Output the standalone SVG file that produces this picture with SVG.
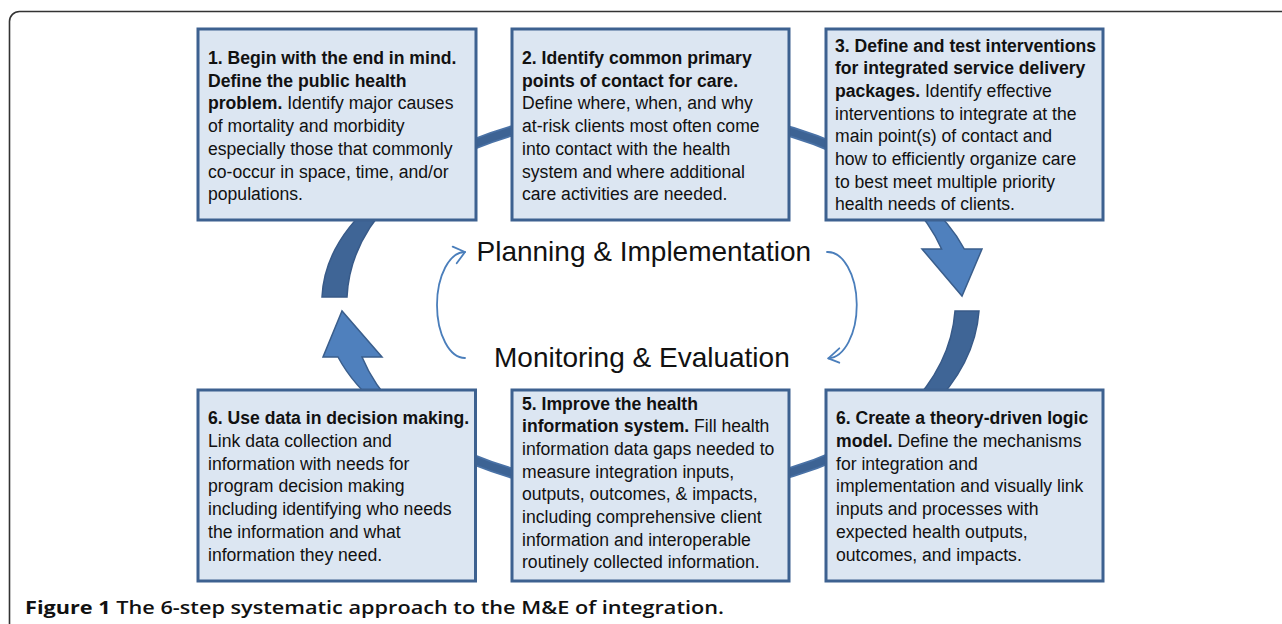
<svg xmlns="http://www.w3.org/2000/svg" width="1282" height="624" viewBox="0 0 1282 624">
<style>
.box{fill:#dce6f2;stroke:#3d6190;stroke-width:3}
.t{font-family:"Liberation Sans",Arial,Helvetica,sans-serif;font-size:17.6px;fill:#111}
.b{font-weight:bold}
.big{font-family:"Liberation Sans",Arial,Helvetica,sans-serif;font-size:28px;fill:#111}
.dark{fill:#3f6596;stroke:#385a88;stroke-width:1.5}
.light{fill:#4f80bd;stroke:#3a5e8c;stroke-width:1.5}
.thin{fill:none;stroke:#4a7ebb;stroke-width:1.8;stroke-linecap:round;stroke-linejoin:round}
.cap{font-family:"Open Sans","Noto Sans","Liberation Sans",sans-serif;font-size:18px;fill:#111}
</style>
<rect x="0" y="0" width="1282" height="624" fill="#ffffff"/>
<path d="M9.5,624 L9.5,21.5 A10,10 0 0 1 19.5,11.5 L1290,11.5" fill="none" stroke="#333" stroke-width="1.6"/>
<g id="connectors">
  <path d="M440,160 A315.5,190 0 0 1 860,160" fill="none" stroke="#4a72a6" stroke-width="11"/>
  <path d="M440,160 A315.5,190 0 0 1 860,160" fill="none" stroke="#3d6394" stroke-width="7.5"/>
  <path d="M440,444 A315.5,190 0 0 0 860,444" fill="none" stroke="#4a72a6" stroke-width="11"/>
  <path d="M440,444 A315.5,190 0 0 0 860,444" fill="none" stroke="#3d6394" stroke-width="7.5"/>
  <path class="dark" d="M376,200 A328,185 0 0 0 322,297 L347,297 A303,195 0 0 1 392,200 Z"/>
  <path class="light" d="M383.7,410 A328,185 0 0 1 338,357 L323,357 L342,311 L382,357 L362,357 A303,195 0 0 0 397.7,410 Z"/>
  <path class="light" d="M908,200 A303,195 0 0 1 941.6,249 L922,249 L962,296 L982,249 L964.3,249 A328,185 0 0 0 923.6,200 Z"/>
  <path class="dark" d="M979,311 A329,203 0 0 1 928.6,410 L906.2,410 A305,199 0 0 0 955,311 Z"/>
  <path class="thin" d="M465,358 A28,53 0 0 1 465,252"/>
  <polyline class="thin" points="452.7,246.7 465,252 456.7,263.3"/>
  <path class="thin" d="M827,252 A29,53 0 0 1 828.3,358.3"/>
  <polyline class="thin" points="839.3,348.3 828.3,358.3 839.3,362.7"/>
</g>
<g id="step1">
  <rect class="box" x="198" y="29" width="278" height="191"/>
  <text class="t">
    <tspan class="b" x="208" y="64">1. Begin with the end in mind.</tspan>
    <tspan class="b" x="208" y="86.7">Define the public health</tspan>
    <tspan x="208" y="109.4"><tspan class="b">problem.</tspan> Identify major causes</tspan>
    <tspan x="208" y="132.1">of mortality and morbidity</tspan>
    <tspan x="208" y="154.8">especially those that commonly</tspan>
    <tspan x="208" y="177.5">co-occur in space, time, and/or</tspan>
    <tspan x="208" y="200.2">populations.</tspan>
  </text>
</g>
<g id="step2">
  <rect class="box" x="512" y="29" width="277" height="191"/>
  <text class="t">
    <tspan class="b" x="522" y="64">2. Identify common primary</tspan>
    <tspan class="b" x="522" y="86.7">points of contact for care.</tspan>
    <tspan x="522" y="109.4">Define where, when, and why</tspan>
    <tspan x="522" y="132.1">at-risk clients most often come</tspan>
    <tspan x="522" y="154.8">into contact with the health</tspan>
    <tspan x="522" y="177.5">system and where additional</tspan>
    <tspan x="522" y="200.2">care activities are needed.</tspan>
  </text>
</g>
<g id="step3">
  <rect class="box" x="826" y="29" width="277" height="191"/>
  <text class="t">
    <tspan class="b" x="835" y="51.5">3. Define and test interventions</tspan>
    <tspan class="b" x="835" y="74.2">for integrated service delivery</tspan>
    <tspan x="835" y="96.9"><tspan class="b">packages.</tspan> Identify effective</tspan>
    <tspan x="835" y="119.6">interventions to integrate at the</tspan>
    <tspan x="835" y="142.3">main point(s) of contact and</tspan>
    <tspan x="835" y="165">how to efficiently organize care</tspan>
    <tspan x="835" y="187.7">to best meet multiple priority</tspan>
    <tspan x="835" y="210.4">health needs of clients.</tspan>
  </text>
</g>
<g id="step6-logic">
  <rect class="box" x="826" y="390" width="277" height="191"/>
  <text class="t">
    <tspan class="b" x="836" y="424.3">6. Create a theory-driven logic</tspan>
    <tspan x="836" y="447"><tspan class="b">model.</tspan> Define the mechanisms</tspan>
    <tspan x="836" y="469.7">for integration and</tspan>
    <tspan x="836" y="492.4">implementation and visually link</tspan>
    <tspan x="836" y="515.1">inputs and processes with</tspan>
    <tspan x="836" y="537.8">expected health outputs,</tspan>
    <tspan x="836" y="560.5">outcomes, and impacts.</tspan>
  </text>
</g>
<g id="step5">
  <rect class="box" x="512" y="390" width="277" height="191"/>
  <text class="t">
    <tspan class="b" x="522" y="409.5">5. Improve the health</tspan>
    <tspan x="522" y="432.2"><tspan class="b">information system.</tspan> Fill health</tspan>
    <tspan x="522" y="454.9">information data gaps needed to</tspan>
    <tspan x="522" y="477.6">measure integration inputs,</tspan>
    <tspan x="522" y="500.3">outputs, outcomes, &amp; impacts,</tspan>
    <tspan x="522" y="523">including comprehensive client</tspan>
    <tspan x="522" y="545.7">information and interoperable</tspan>
    <tspan x="522" y="568.4">routinely collected information.</tspan>
  </text>
</g>
<g id="step6-data">
  <rect class="box" x="198" y="390" width="277.5" height="191"/>
  <text class="t">
    <tspan class="b" x="208" y="424.3">6. Use data in decision making.</tspan>
    <tspan x="208" y="447">Link data collection and</tspan>
    <tspan x="208" y="469.7">information with needs for</tspan>
    <tspan x="208" y="492.4">program decision making</tspan>
    <tspan x="208" y="515.1">including identifying who needs</tspan>
    <tspan x="208" y="537.8">the information and what</tspan>
    <tspan x="208" y="560.5">information they need.</tspan>
  </text>
</g>
<g id="label-planning">
  <text class="big" x="476.5" y="261">Planning &amp; Implementation</text>
</g>
<g id="label-monitoring">
  <text class="big" x="494" y="367">Monitoring &amp; Evaluation</text>
</g>
<text class="cap" x="25" y="614" textLength="699" lengthAdjust="spacingAndGlyphs"><tspan font-weight="700">Figure 1</tspan><tspan font-weight="600"> The 6-step systematic approach to the M&amp;E of integration.</tspan></text>
</svg>
